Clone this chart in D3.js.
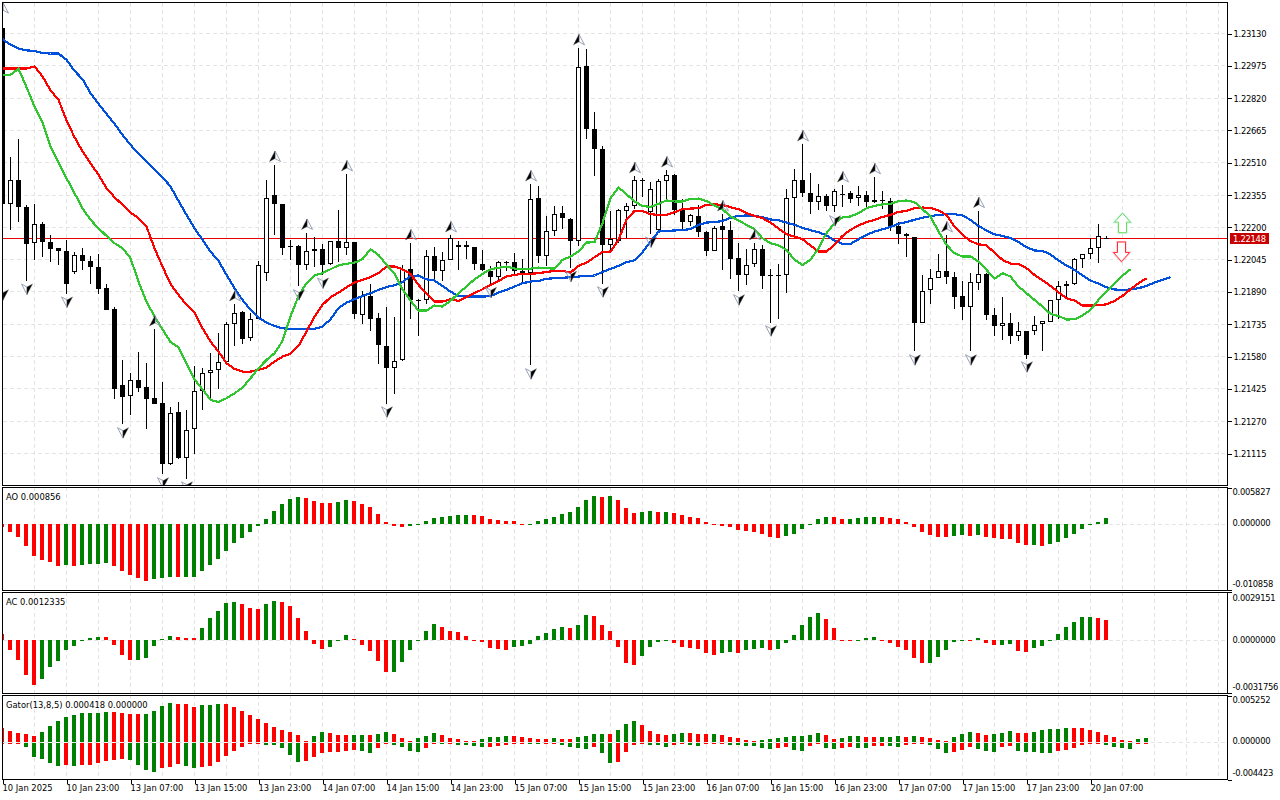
<!DOCTYPE html>
<html>
<head>
<meta charset="utf-8">
<script src="https://cdn.jsdelivr.net/npm/d3@7"></script>
<style>
  html, body { margin: 0; padding: 0; background: #fff; }
  svg { display: block; }
  text { font-family: "DejaVu Sans Condensed", "DejaVu Sans", sans-serif; font-stretch: condensed; font-size: 9.3px; fill: #000; }
  .value-axis text { letter-spacing: -0.27px; }
  .tick line { stroke: #000; shape-rendering: crispEdges; }
  .grid line { stroke: #e4e4e4; stroke-dasharray: 4 3; shape-rendering: crispEdges; }
  .frame { fill: none; stroke: #000; shape-rendering: crispEdges; }
</style>
</head>
<body>
<svg id="chart" width="1280" height="800"></svg>
<script>
// all prices in points (1e-5), oscillators in 1e-6
const opens = [
  123154,122309,122424,122295,122122,122213,122127,122098,122084,121981,
  122064,122036,122007,121906,121805,121440,121388,121464,121431,121378,
  121354,121060,121311,121093,121229,121412,121498,121512,121551,121733,
  121791,121666,121757,121978,122352,122309,122108,122108,122016,122084,
  122093,122020,122132,122098,122127,121776,121869,121762,121628,121525,
  121559,121997,121848,121848,122060,121986,122040,122101,122112,122103,
  122021,121988,121957,122031,122031,121986,121978,122338,122058,122180,
  122266,122237,122132,122972,122669,122573,122111,122132,122276,122300,
  122424,122271,122184,122420,122448,122280,122223,122252,122175,122084,
  122204,122184,122050,121967,122021,122093,121968,121968,121967,122338,
  122424,122362,122319,122348,122298,122357,122362,122338,122352,122319,
  122328,122324,122202,122165,122151,121738,121896,121954,121988,121959,
  121868,121815,121930,121973,121775,121724,121738,121676,121700,121700,
  121733,121743,121848,121916,121924,122045,122069,122098,122148];
const highs = [
  123210,122535,122621,122304,122309,122224,122160,122098,122136,122079,
  122098,122060,122069,121925,121815,121562,121498,121600,121546,121709,
  121456,121336,121359,121320,121532,121522,121594,121692,121744,121829,
  121796,121788,122036,122424,122498,122309,122136,122112,122172,122152,
  122117,122132,122282,122453,122127,121892,121925,121788,121816,121768,
  122016,122122,121856,122088,122103,122079,122160,122132,122132,122103,
  122088,122010,122036,122036,122074,122045,122405,122396,122252,122300,
  122300,122242,123058,123053,122751,122586,122276,122285,122314,122444,
  122434,122415,122429,122472,122455,122333,122261,122304,122181,122204,
  122261,122229,122122,122093,122122,122112,121997,122021,122381,122477,
  122597,122458,122405,122357,122381,122400,122370,122396,122372,122439,
  122372,122338,122223,122170,122151,121968,121997,122069,122160,121983,
  121940,121978,122277,121978,121810,121863,121786,121744,121700,121772,
  121748,121848,121940,121940,122050,122069,122146,122213,122157];
const lows = [
  121914,122186,122221,121941,122039,122053,122029,122015,121879,121972,
  121994,121924,121879,121799,121372,121252,121295,121410,121228,121352,
  121012,121056,121088,120992,121108,121319,121370,121424,121546,121626,
  121636,121650,121757,121938,122162,122063,122039,121914,121994,122007,
  121970,122015,122031,122063,121756,121732,121698,121544,121352,121400,
  121556,121757,121674,121828,121952,121940,122039,121991,122045,121991,
  121986,121925,121938,121986,121970,121924,121535,122026,122010,122154,
  122189,122002,122106,122620,122442,121928,122089,122122,122146,122285,
  122341,122167,122183,122333,122258,122186,122205,122152,122061,122084,
  121992,121952,121890,121919,122005,121904,121741,121759,121885,122162,
  122341,122264,122279,122274,122269,122295,122314,122301,122285,122314,
  122285,122178,122116,122053,121602,121738,121832,121954,121924,121804,
  121751,121602,121895,121751,121674,121655,121640,121650,121568,121680,
  121602,121743,121757,121858,121920,122002,122045,122026,122144];
const closes = [
  122309,122424,122295,122116,122213,122125,122096,122082,121928,122064,
  122036,122005,121904,121802,121424,121386,121464,121429,121376,121352,
  121060,121309,121092,121224,121412,121498,121511,121551,121733,121789,
  121664,121757,122016,122338,122309,122098,122101,122015,122084,122093,
  122018,122132,122098,122125,121780,121866,121760,121631,121525,121554,
  121997,121847,121844,122060,121986,122040,122146,122112,122101,122020,
  121991,121957,122031,122026,121986,121970,122333,122058,122180,122261,
  122242,122130,122967,122668,122572,122111,122141,122280,122300,122424,
  122420,122381,122420,122448,122280,122223,122256,122175,122084,122194,
  122183,122048,121967,122016,122093,121962,121962,121965,122338,122424,
  122362,122319,122348,122298,122372,122352,122333,122352,122319,122328,
  122325,122204,122164,122156,121738,121892,121954,121988,121959,121863,
  121815,121935,121973,121775,121724,121738,121676,121700,121583,121728,
  121748,121848,121916,121925,122045,122069,122098,122156,122146];

// alligator, already shifted forward past the last candle
const jaw = [
  123101,123074,123056,123047,123045,123034,123032,123032,123002,122949,
  122909,122842,122791,122743,122695,122642,122594,122551,122514,122474,
  122439,122394,122325,122258,122194,122138,122082,122037,121970,121906,
  121850,121802,121765,121741,121725,121714,121711,121711,121711,121711,
  121722,121757,121810,121837,121853,121869,121882,121898,121912,121920,
  121936,121964,121967,121949,121943,121917,121890,121868,121866,121866,
  121866,121868,121885,121898,121914,121930,121938,121941,121951,121954,
  121956,121959,121962,121965,121967,121984,121999,122013,122031,122040,
  122079,122130,122178,122181,122183,122186,122189,122210,122221,122224,
  122228,122244,122253,122255,122253,122247,122236,122232,122221,122210,
  122196,122184,122175,122159,122135,122119,122119,122141,122162,122178,
  122189,122200,122215,122224,122234,122244,122252,122258,122261,122261,
  122255,122234,122205,122183,122165,122157,122146,122127,122103,122087,
  122085,122068,122039,122015,121994,121968,121943,121928,121911,121900,
  121898,121900,121906,121917,121933,121946,121959];
const teeth = [
  122960,122960,122960,122960,122970,122922,122855,122810,122711,122631,
  122562,122506,122450,122386,122343,122306,122269,122242,122202,122098,
  122010,121927,121874,121826,121789,121714,121650,121602,121546,121519,
  121506,121506,121514,121525,121554,121578,121591,121629,121698,121770,
  121826,121863,121885,121911,121933,121946,121959,121978,122010,122010,
  121997,121975,121922,121879,121842,121842,121853,121845,121863,121882,
  121901,121922,121941,121962,121970,121975,121975,121978,121984,121989,
  121989,121981,122013,122029,122055,122080,122082,122138,122234,122277,
  122277,122261,122258,122258,122271,122285,122288,122290,122306,122308,
  122306,122295,122285,122266,122253,122242,122221,122192,122165,122154,
  122141,122111,122082,122082,122114,122157,122186,122207,122223,122234,
  122248,122258,122272,122277,122290,122293,122292,122279,122258,122202,
  122162,122132,122117,122111,122077,122042,122024,122023,122002,121970,
  121944,121917,121887,121858,121847,121823,121823,121824,121829,121845,
  121869,121901,121930,121954];
const lips = [
  122930,122930,122959,122871,122778,122701,122586,122511,122434,122362,
  122290,122234,122194,122157,122122,122098,122050,121938,121842,121770,
  121709,121648,121623,121546,121469,121421,121370,121360,121378,121402,
  121429,121474,121522,121562,121594,121653,121770,121869,121930,121967,
  121978,121997,122016,122023,122029,122045,122093,122066,122018,121978,
  121901,121847,121799,121799,121823,121818,121845,121882,121914,121949,
  121975,121997,122004,122010,122000,121999,122000,122005,122002,122000,
  122042,122058,122082,122125,122127,122218,122338,122389,122357,122322,
  122301,122296,122311,122327,122322,122322,122335,122336,122324,122303,
  122285,122250,122231,122210,122189,122146,122122,122111,122090,122042,
  122018,122042,122098,122170,122218,122247,122250,122266,122290,122301,
  122308,122311,122324,122327,122319,122285,122250,122178,122114,122074,
  122058,122058,122034,121994,121951,121978,121962,121914,121882,121850,
  121818,121783,121773,121756,121757,121775,121802,121850,121890,121930,
  121967,121997];

const fractalsUp = [0,19,29,34,38,43,51,56,66,72,79,83,90,94,100,105,109,118,122];
const fractalsDown = [0,3,8,15,20,23,37,40,48,61,66,71,75,81,92,96,104,114,121,128];

const aoValues = [
  -495,-1375,-2200,-3685,-5335,-5995,-6325,-6985,-6820,-6985,
  -6820,-6655,-6650,-6490,-6985,-7810,-8470,-8965,-9460,-9130,
  -8965,-8800,-8810,-8790,-8690,-7810,-6820,-5830,-4510,-3190,
  -2365,-1375,-385,825,2145,3135,3960,4290,4125,3685,
  3355,3300,3520,3795,3630,3135,2640,1650,330,-385,
  -550,-385,-220,385,990,1155,1210,1485,1490,1480,
  1320,825,660,385,380,-55,-50,495,825,1155,
  1650,1980,2640,3795,4455,4290,4455,3795,2475,1815,
  1980,1985,1975,1980,1815,1485,1155,990,330,-110,
  -385,-550,-1045,-1210,-1375,-1705,-2200,-2365,-2035,-1705,
  -880,-55,825,1155,1150,825,830,990,1155,1160,
  1150,990,715,330,-495,-1375,-1870,-2200,-2205,-2035,
  -1870,-2035,-1870,-2200,-2365,-2530,-2535,-3190,-3520,-3515,
  -3685,-3355,-3025,-2365,-1705,-880,-220,330,856];
const acValues = [
  364,-606,-1212,-2060,-2666,-2303,-1636,-1273,-606,-364,
  -20,121,182,172,-303,-909,-1212,-1192,-1091,-364,
  61,242,182,121,111,727,1333,1757,2242,2303,
  2182,1939,1879,2182,2363,2303,2060,1333,545,-242,
  -545,-424,-20,303,61,-303,-667,-1273,-1939,-1919,
  -1333,-606,-20,545,970,788,545,485,242,-40,
  -81,-485,-545,-556,-424,-364,-242,242,424,667,
  788,727,909,1515,1454,909,545,-424,-1394,-1515,
  -970,-424,-101,-40,-182,-424,-485,-545,-788,-909,
  -788,-727,-737,-606,-545,-485,-606,-545,-182,303,
  909,1394,1636,1273,727,-20,-61,-20,121,182,
  40,-162,-424,-606,-1091,-1394,-1374,-1030,-606,-121,
  40,-20,121,-182,-303,-283,-242,-667,-727,-485,
  -364,-20,364,788,1091,1394,1404,1333,1233.5];
const gatorUpper = [
  1579,1271,1040,924,693,1155,1848,2426,2888,3119,
  3350,3353,3357,3465,3461,3350,3234,3230,3234,3581,
  4158,4505,4389,4385,4043,4274,4277,4389,4385,4043,
  3581,3119,2657,2195,1733,1386,1155,809,116,693,
  1155,1040,809,805,809,812,809,924,1155,924,
  462,116,462,693,1040,809,462,347,116,112,
  347,578,581,693,689,578,462,347,343,462,
  347,343,578,693,924,928,924,1386,2079,2426,
  1964,1271,924,809,924,1040,1036,924,920,924,
  809,578,462,231,116,231,235,462,578,693,
  697,809,1040,809,347,462,693,697,578,574,
  578,581,693,578,693,578,462,231,116,578,
  924,1155,1040,809,924,1040,1271,1040,1036,1155,
  1386,1502,1505,1617,1613,1609,1386,1155,809,578,
  231,116,347,418];
const gatorLower = [
  -116,-96,-77,-693,-1848,-2079,-2541,-2888,-2772,-2791,
  -2772,-2768,-2541,-2310,-2195,-2079,-2195,-2772,-3350,-3581,
  -3119,-3003,-2657,-2888,-3119,-3003,-2888,-2426,-1733,-1155,
  -693,-231,-77,-347,-350,-809,-1617,-2426,-2310,-1848,
  -1386,-1271,-1267,-1155,-1040,-1155,-1386,-809,-77,-347,
  -693,-1155,-1271,-809,-231,-235,-116,-347,-462,-578,
  -693,-689,-578,-462,-231,-116,-231,-235,-116,-77,
  -462,-693,-697,-924,-693,-1386,-2541,-2426,-1271,-462,
  -231,-347,-462,-693,-462,-231,-462,-466,-116,-112,
  -108,-347,-462,-466,-578,-809,-924,-809,-693,-1040,
  -1155,-578,-116,-809,-924,-700,-693,-697,-701,-578,
  -574,-578,-581,-347,-116,-77,-347,-924,-1386,-1271,
  -1040,-693,-924,-1155,-1271,-693,-578,-1155,-1271,-1274,
  -1278,-1386,-1155,-1040,-809,-347,-116,-77,-462,-693,
  -809,-924,-123,-116];

const priceTicks = [123130,122975,122820,122665,122510,122355,122200,122045,121890,121735,121580,121425,121270,121115];
const bidPrice = 122148;
const timeTicks = [0,8,16,24,32,40,48,56,64,72,80,88,96,104,112,120,128,136];
const timeLabels = ['10 Jan 2025','10 Jan 23:00','13 Jan 07:00','13 Jan 15:00','13 Jan 23:00','14 Jan 07:00',
  '14 Jan 15:00','14 Jan 23:00','15 Jan 07:00','15 Jan 15:00','15 Jan 23:00','16 Jan 07:00','16 Jan 15:00',
  '16 Jan 23:00','17 Jan 07:00','17 Jan 15:00','17 Jan 23:00','20 Jan 07:00'];

const svg = d3.select('#chart');
const plotLeft = 2.5, plotRight = 1227.5;
const GREEN = '#008000', RED = '#ff0000';

const x = d3.scaleLinear().domain([0, 1]).range([2.5, 10.5]);
const y = d3.scaleLinear().domain([121115, 123130]).range([453.5, 33.5]);
const gridX = d3.range(4, 153, 4);

const defs = svg.append('defs');
function clip(id, top, bottom) {
    defs.append('clipPath').attr('id', id).append('rect')
        .attr('x', plotLeft + 0.5).attr('y', top)
        .attr('width', plotRight - plotLeft - 1).attr('height', bottom - top);
    return svg.append('g').attr('clip-path', `url(#${id})`);
}

function verticalGrid(g, top, bottom) {
    g.append('g').attr('class', 'grid').selectAll('line').data(gridX).join('line')
        .attr('x1', d => x(d)).attr('x2', d => x(d)).attr('y1', top).attr('y2', bottom);
}

// main panel
const main = clip('clip-main', 2.5, 485);
verticalGrid(main, 3, 485);
main.append('g').attr('class', 'grid').selectAll('line').data(priceTicks).join('line')
    .attr('x1', plotLeft).attr('x2', plotRight).attr('y1', d => y(d)).attr('y2', d => y(d));

main.append('line').attr('x1', plotLeft).attr('x2', plotRight)
    .attr('y1', Math.floor(y(bidPrice)) + 0.5).attr('y2', Math.floor(y(bidPrice)) + 0.5)
    .attr('stroke', '#e80000').attr('shape-rendering', 'crispEdges');

const candles = opens.map((o, i) => ({ i, o, h: highs[i], l: lows[i], c: closes[i] }));
const snap = v => Math.floor(y(v));

const candle = main.append('g').attr('shape-rendering', 'crispEdges').selectAll('g').data(candles).join('g');
candle.append('line')
    .attr('x1', d => x(d.i)).attr('x2', d => x(d.i))
    .attr('y1', d => snap(d.h)).attr('y2', d => snap(d.l))
    .attr('stroke', '#000');
candle.append('rect')
    .attr('x', d => d.c >= d.o ? x(d.i) - 2 : x(d.i) - 2.5)
    .attr('width', d => d.c >= d.o ? 4 : 5)
    .attr('y', d => d.c >= d.o ? snap(Math.max(d.o, d.c)) + 0.5 : snap(Math.max(d.o, d.c)))
    .attr('height', d => {
        const h = Math.abs(snap(d.o) - snap(d.c));
        return d.c >= d.o ? Math.max(h - 1, 1) : Math.max(h, 1);
    })
    .attr('fill', d => d.c >= d.o ? '#fff' : '#000')
    .attr('stroke', d => d.c >= d.o ? '#000' : 'none');

// alligator
const lineGen = d3.line().x((d, i) => x(i)).y(d => y(d) - 0.4);
[[jaw, '#0050dc'], [teeth, '#ff0000'], [lips, '#2fc62f']].forEach(([series, color]) => {
    main.append('path').datum(series)
        .attr('d', lineGen).attr('fill', 'none')
        .attr('stroke', color).attr('stroke-width', 2.2)
        .attr('shape-rendering', 'crispEdges');
});

// fractal arrows, black half and hollow half
function fractal(g, xc, yc, flip) {
    const arrow = g.append('g').attr('transform', `translate(${xc},${yc}) rotate(${flip ? 180 : 0})`);
    arrow.append('path').attr('d', 'M0,-5.5L5.5,5L0,2Z')
        .attr('fill', 'none').attr('stroke', '#8d97ad').attr('stroke-width', 0.9);
    arrow.append('path').attr('d', 'M0,-5.5L-5.5,5L0,2Z')
        .attr('fill', '#000').attr('stroke', '#555').attr('stroke-width', 0.4);
}
fractalsUp.forEach(i => fractal(main, x(i) + 0.5, y(highs[i]) - 8.7, false));
fractalsDown.forEach(i => fractal(main, x(i) + 0.5, y(lows[i]) + 7.7, true));

// signal arrows on the right
function bigArrow(xc, tipPrice, dir, stroke, glow) {
    const g = main.append('g').attr('transform', `translate(${xc},${y(tipPrice)}) scale(1,${dir})`);
    const d = 'M0,0L8,9L4,9L4,19.5L-4,19.5L-4,9L-8,9Z';
    g.append('path').attr('d', d).attr('fill', '#fff').attr('stroke', glow).attr('stroke-width', 2.2);
    g.append('path').attr('d', d).attr('fill', '#fff').attr('stroke', stroke).attr('stroke-width', 1);
}
bigArrow(x(140), 122268, 1, '#6edc5e', '#c8f4e8');
bigArrow(x(140) - 1, 122036, -1, '#ff3030', '#ffc0d0');

// oscillator panels: AO and AC colour by direction, gator by size
function histogram(g, series, yScale, gap, rising) {
    const y0 = Math.round(yScale(0));
    g.append('g').attr('shape-rendering', 'crispEdges').selectAll('rect').data(series).join('rect')
        .attr('x', (d, i) => x(i) - 2.5).attr('width', 4)
        .attr('y', d => d >= 0 ? Math.round(yScale(d)) : y0 + gap)
        .attr('height', d => Math.max(Math.abs(Math.round(yScale(d)) - y0) - (d < 0 ? gap : 0), 1))
        .attr('fill', (d, i) => i > 0 && rising(d, series[i - 1]) ? GREEN : RED);
}
const byValue = (d, prev) => d > prev;
const bySize = (d, prev) => Math.abs(d) > Math.abs(prev);

const panels = [
    { id: 'ao', top: 487, bottom: 590, range: [590, 488], domain: [-10858, 5827], digits: 6,
      title: 'AO 0.000856', labelY: [492, 522.5, 584], series: [aoValues], gap: 0, rising: byValue },
    { id: 'ac', top: 592, bottom: 693, range: [693, 592], domain: [-3175.6, 2915.1], digits: 7,
      title: 'AC 0.0012335', labelY: [597.7, 639.5, 687], series: [acValues], gap: 0, rising: byValue },
    { id: 'gator', top: 695, bottom: 779, range: [779.6, 696.3], domain: [-4423, 5252], digits: 6,
      title: 'Gator(13,8,5) 0.000418 0.000000', labelY: [700, 741, 773], series: [gatorUpper, gatorLower], gap: 1, rising: bySize }
];

panels.forEach(p => {
    const yp = d3.scaleLinear().domain(p.domain).range(p.range);
    const g = clip('clip-' + p.id, p.top, p.bottom);
    verticalGrid(g, p.top, p.bottom);
    const zero = Math.round(yp(0)) + 0.5;
    g.append('g').attr('class', 'grid').append('line')
        .attr('x1', plotLeft).attr('x2', plotRight).attr('y1', zero).attr('y2', zero);
    p.series.forEach(s => histogram(g, s, yp, p.gap, p.rising));

    svg.append('text').attr('x', 6).attr('y', p.top + 13).text(p.title);

    const axisTicks = [p.domain[1], 0, p.domain[0]];
    const axis = svg.append('g').attr('class', 'value-axis').attr('transform', `translate(${plotRight},0)`)
        .call(d3.axisRight(yp).tickValues(axisTicks).tickSize(4).tickPadding(1)
            .tickFormat(v => (v / 1e6).toFixed(p.digits)));
    axis.select('.domain').remove();
    axis.selectAll('.tick').each(function(d, i) {
        const t = d3.select(this);
        t.select('text').attr('y', p.labelY[i] - yp(d)).attr('dy', '.32em');
        if (d === 0) t.select('line').remove();
    });
});

// price axis
const priceAxis = svg.append('g').attr('class', 'value-axis').attr('transform', `translate(${plotRight},0)`)
    .call(d3.axisRight(y).tickValues(priceTicks).tickSize(4).tickPadding(2)
        .tickFormat(v => (v / 1e5).toFixed(5)));
priceAxis.select('.domain').remove();

// bid tag
const bidY = Math.floor(y(bidPrice)) + 0.5;
svg.append('rect').attr('x', 1230).attr('y', bidY - 5.5).attr('width', 39).attr('height', 11)
    .attr('fill', '#c80000').attr('shape-rendering', 'crispEdges');
svg.append('text').attr('x', 1233).attr('y', bidY).attr('dy', '.35em').style('letter-spacing', '-0.27px')
    .style('fill', '#fff').text((bidPrice / 1e5).toFixed(5));

// time axis
const timeAxis = svg.append('g').attr('transform', 'translate(0,779)')
    .call(d3.axisBottom(x).tickValues(timeTicks).tickSize(5).tickPadding(3)
        .tickFormat(v => timeLabels[timeTicks.indexOf(v)]));
timeAxis.select('.domain').remove();
timeAxis.selectAll('text').style('text-anchor', 'start').attr('x', -0.5).attr('y', 5);

// frames
[[2, 485], [487, 590], [592, 693], [695, 779]].forEach(([t, b]) => {
    svg.append('rect').attr('class', 'frame')
        .attr('x', plotLeft).attr('y', t + 0.5)
        .attr('width', plotRight - plotLeft).attr('height', b - t);
});
</script>
</body>
</html>
